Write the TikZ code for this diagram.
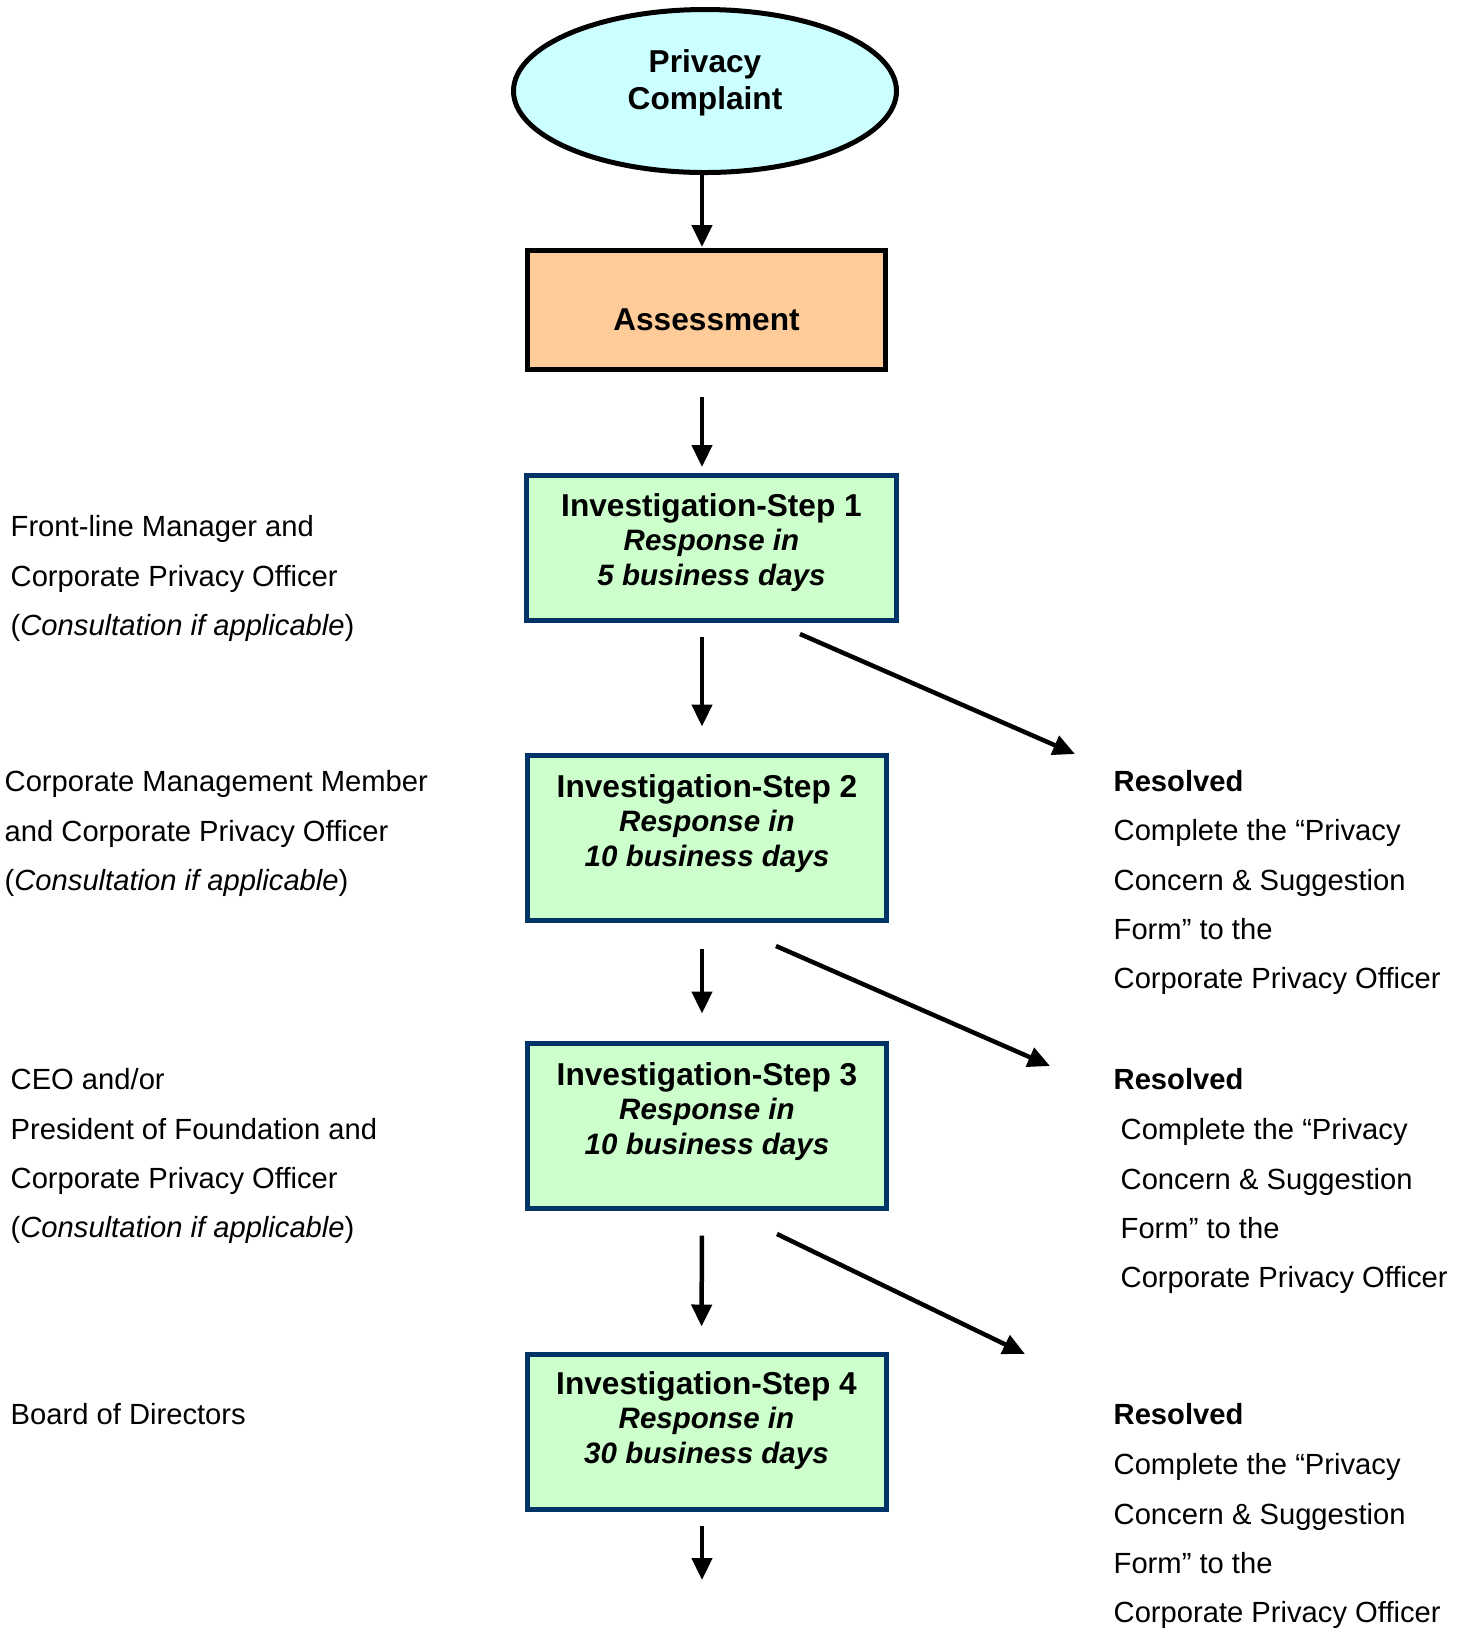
\documentclass[tikz,border=0pt]{standalone}
\usepackage{fontspec}
\setmainfont{Liberation Sans}
\usetikzlibrary{shapes.geometric,arrows.meta}

\definecolor{cyanfill}{HTML}{CCFFFF}
\definecolor{peach}{HTML}{FFCC99}
\definecolor{mint}{HTML}{CCFFCC}
\definecolor{navy}{HTML}{003366}

\newcommand{\resp}[1]{{\fontsize{8.4}{9.8}\selectfont\itshape #1}}

\begin{document}
\begin{tikzpicture}[x=0.1mm, y=-0.1mm,
    boxfont/.style={font=\fontsize{9}{9.8}\selectfont\bfseries},
    stepbox/.style={boxfont, draw=navy, fill=mint, line width=0.5mm, minimum width=35.9mm,
      minimum height=16.5mm, inner sep=0pt, align=center, text depth=3.5mm},
    arr/.style={line width=0.45mm, -{Triangle[length=2.2mm,width=2mm]}},
    side/.style={anchor=north west, inner sep=0pt, align=left, font=\fontsize{8.3}{14}\selectfont},
    resolved/.style={side, font=\fontsize{8.3}{14}\selectfont\bfseries}]
  \useasboundingbox (0,0) rectangle (1468,1628);

  % main column
  \node (complaint) [ellipse, draw, line width=0.5mm, fill=cyanfill, minimum width=38.3mm,
    minimum height=16.3mm, inner sep=0pt, align=center, font=\fontsize{9}{10.6}\selectfont\bfseries,
    text depth=2.3mm] at (705,91) {Privacy\\Complaint};
  \node (assess) [draw, line width=0.5mm, fill=peach, minimum width=35.8mm, minimum height=11.9mm,
    inner sep=0pt, boxfont, text height=4.1mm] at (706.5,310) {Assessment};
  \node (step1) [stepbox, minimum width=37mm, minimum height=14.5mm, text depth=1.7mm]
    at (711.5,548) {Investigation-Step 1\\\resp{Response in}\\\resp{5 business days}};
  \node (step2) [stepbox] at (707,838) {Investigation-Step 2\\\resp{Response in}\\\resp{10 business days}};
  \node (step3) [stepbox] at (707,1126) {Investigation-Step 3\\\resp{Response in}\\\resp{10 business days}};
  \node (step4) [stepbox, minimum height=15.5mm, text depth=2.9mm]
    at (706.5,1432) {Investigation-Step 4\\\resp{Response in}\\\resp{30 business days}};
  \coordinate (next) at (702,1580);

  \draw [arr, shorten >=0.1mm] ([xshift=-0.3mm]complaint.south) -- ([xshift=-0.3mm]complaint.south |- assess.north);
  \draw [arr, shorten <=2.5mm, shorten >=0.6mm] ([xshift=-0.45mm]assess.south) -- ([xshift=-0.45mm]assess.south |- step1.north);
  \draw [arr, shorten <=1.35mm, shorten >=2.65mm] ([xshift=-0.5mm]step2.north |- step1.south) -- ([xshift=-0.5mm]step2.north);
  \draw [arr, shorten <=2.55mm, shorten >=2.75mm] ([xshift=-0.5mm]step2.south) -- ([xshift=-0.5mm]step3.north);
  \draw [arr, shorten <=2.45mm, shorten >=2.55mm] ([xshift=-0.5mm]step3.south) -- ([xshift=-0.5mm]step4.north);
  \draw [arr, shorten <=1.35mm] (step4.south -| next) -- (next);

  % who handles each step
  \node (lead1) [side] at (10,515) {Front-line Manager and\\Corporate Privacy Officer\\(\textit{Consultation if applicable})};
  \node (lead2) [side] at (4,770) {Corporate Management Member\\and Corporate Privacy Officer\\(\textit{Consultation if applicable})};
  \node (lead3) [side] at (10,1068) {CEO and/or\\President of Foundation and\\Corporate Privacy Officer\\(\textit{Consultation if applicable})};
  \node (lead4) [side] at (10,1403) {Board of Directors};

  % resolved branches
  \node (res1) [resolved] at (1113,770) {Resolved};
  \node (form1) [side] at (1113,819) {Complete the “Privacy\\Concern \& Suggestion\\Form” to the\\Corporate Privacy Officer};
  \node (res2) [resolved] at (1113,1068) {Resolved};
  \node (form2) [side] at (1120,1118) {Complete the “Privacy\\Concern \& Suggestion\\Form” to the\\Corporate Privacy Officer};
  \node (res3) [resolved] at (1113,1403) {Resolved};
  \node (form3) [side] at (1113,1453) {Complete the “Privacy\\Concern \& Suggestion\\Form” to the\\Corporate Privacy Officer};

  \coordinate (out1) at (800,634);
  \coordinate (in1) at (1075,754);
  \coordinate (out2) at (776,946);
  \coordinate (in2) at (1050,1066);
  \coordinate (out3) at (777,1234);
  \coordinate (in3) at (1025,1354);
  \draw [arr] (out1) -- (in1);
  \draw [arr] (out2) -- (in2);
  \draw [arr] (out3) -- (in3);
\end{tikzpicture}
\end{document}
